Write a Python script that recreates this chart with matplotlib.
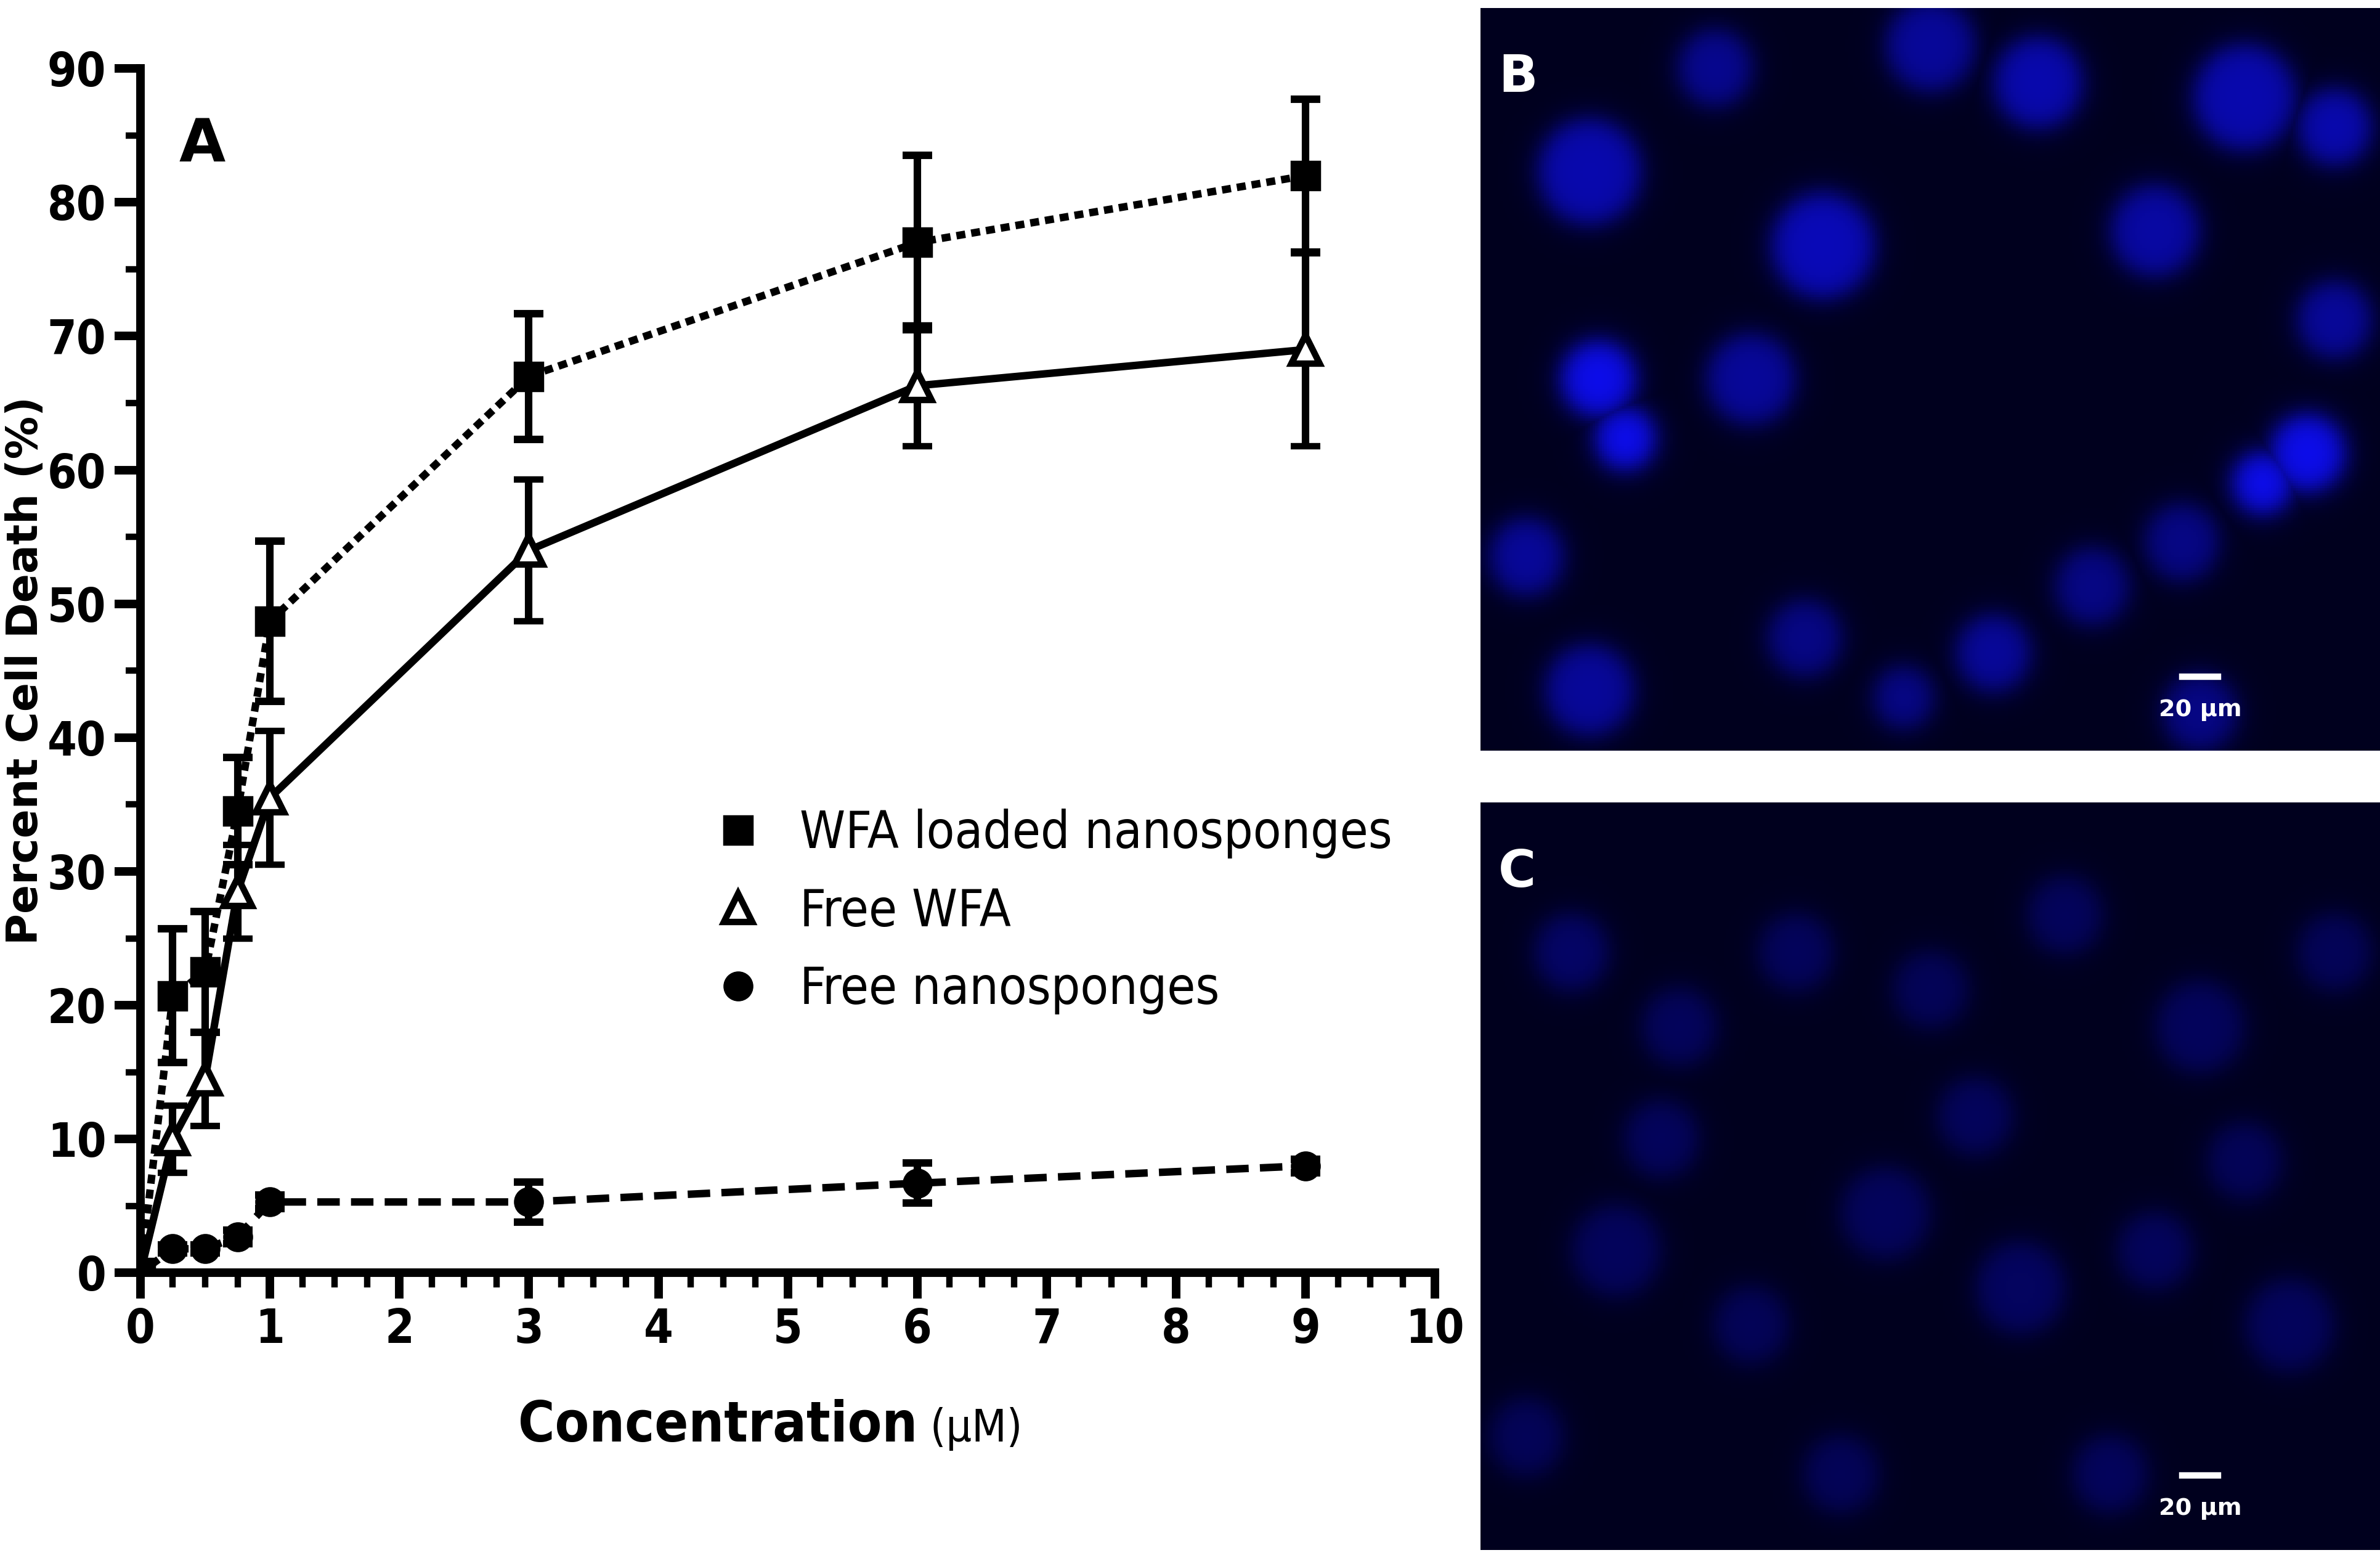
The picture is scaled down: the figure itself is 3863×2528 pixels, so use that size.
import numpy as np
import matplotlib
matplotlib.use("Agg")
import matplotlib.pyplot as plt
from matplotlib.lines import Line2D

conc = [0, 0.25, 0.5, 0.75, 1, 3, 6, 9]
wfa_ns = [0, 20.7, 22.5, 34.5, 48.7, 67, 77, 82]
wfa_ns_err = [0, 5, 4.5, 4, 6, 4.7, 6.5, 5.7]
free_wfa = [0, 10, 14.5, 28.5, 35.5, 54, 66.3, 69]
free_wfa_err = [0, 2.5, 3.5, 3.5, 5, 5.3, 4.5, 7.2]
free_ns = [0, 1.8, 1.8, 2.7, 5.3, 5.3, 6.7, 8]
free_ns_err = [0, 0.3, 0.3, 0.5, 0.5, 1.5, 1.5, 0.5]
labels = ['WFA loaded nanosponges', 'Free WFA', 'Free nanosponges']

# approximate cell centers (x, y, radius, brightness) in panel fractions (y from top)
cells_b = [(0.12,0.22,0.07,0.7),(0.38,0.32,0.07,0.75),(0.13,0.5,0.05,1.0),(0.16,0.58,0.04,1.0),
           (0.3,0.5,0.06,0.6),(0.5,0.05,0.06,0.6),(0.62,0.1,0.06,0.7),(0.85,0.12,0.07,0.7),
           (0.95,0.16,0.05,0.7),(0.92,0.6,0.05,1.0),(0.87,0.64,0.04,1.0),(0.78,0.72,0.05,0.5),
           (0.68,0.78,0.05,0.5),(0.57,0.87,0.05,0.6),(0.05,0.74,0.05,0.6),(0.12,0.92,0.06,0.6),
           (0.36,0.85,0.05,0.5),(0.47,0.93,0.04,0.5),(0.75,0.3,0.06,0.65),(0.95,0.42,0.05,0.6),
           (0.26,0.08,0.05,0.55),(0.8,0.95,0.05,0.5)]
cells_c = [(0.1,0.2,0.05,0.35),(0.22,0.3,0.05,0.3),(0.35,0.2,0.05,0.3),(0.5,0.25,0.05,0.28),
           (0.65,0.15,0.05,0.3),(0.8,0.3,0.06,0.3),(0.95,0.2,0.05,0.28),(0.15,0.6,0.06,0.3),
           (0.3,0.7,0.05,0.28),(0.45,0.55,0.06,0.3),(0.6,0.65,0.06,0.32),(0.75,0.6,0.05,0.3),
           (0.9,0.7,0.06,0.3),(0.05,0.85,0.05,0.28),(0.4,0.9,0.05,0.28),(0.7,0.9,0.05,0.3),
           (0.55,0.42,0.05,0.3),(0.2,0.45,0.05,0.3),(0.85,0.48,0.05,0.28)]

fig = plt.figure(figsize=(15.452, 10.112), dpi=250)
ax = fig.add_axes([0.059, 0.183, 0.544, 0.773])
lw = 3.5
ekw = dict(capsize=7, capthick=lw, elinewidth=lw, color='black', markersize=13)
ax.errorbar(conc, wfa_ns, yerr=wfa_ns_err, fmt='s', linestyle=(0, (1.2, 0.8)), lw=lw, **ekw)
ax.errorbar(conc, free_wfa, yerr=free_wfa_err, fmt='^', linestyle='-', lw=lw,
            markerfacecolor='white', markeredgewidth=3, **ekw)
ax.errorbar(conc, free_ns, yerr=free_ns_err, fmt='o', linestyle=(0, (3, 1.5)), lw=lw, **ekw)
ax.set_xlim(0, 10)
ax.set_ylim(0, 90)
ax.set_xticks(range(0, 11))
ax.set_xticks(np.arange(0, 10.01, 0.25), minor=True)
ax.set_yticks(range(0, 91, 10))
ax.set_yticks(range(0, 91, 5), minor=True)
for s in ['top', 'right']:
    ax.spines[s].set_visible(False)
for s in ['left', 'bottom']:
    ax.spines[s].set_linewidth(4)
ax.tick_params(which='major', length=12, width=4, labelsize=22, pad=4)
ax.tick_params(which='minor', length=7, width=3)
for t in ax.get_xticklabels() + ax.get_yticklabels():
    t.set_fontstretch('condensed'); t.set_fontweight('bold')
ax.set_ylabel('Percent Cell Death (%)', fontsize=20, fontweight='bold')
ax.yaxis.set_label_coords(-0.073, 0.5)
ax.text(0.6, -0.14, 'Concentration', transform=ax.transAxes, fontsize=26, fontweight='bold',
        fontstretch='condensed', ha='right', va='baseline')
ax.text(0.6, -0.14, ' (µM)', transform=ax.transAxes, fontsize=21, fontstretch='condensed',
        ha='left', va='baseline')
ax.text(0.03, 0.96, 'A', transform=ax.transAxes, fontsize=28, fontweight='bold', va='top')
handles = [Line2D([], [], marker='s', ls='none', color='black', markersize=13),
           Line2D([], [], marker='^', ls='none', color='black', markerfacecolor='white',
                  markeredgewidth=3, markersize=13),
           Line2D([], [], marker='o', ls='none', color='black', markersize=13)]
ax.legend(handles, labels, loc='center left', bbox_to_anchor=(0.41, 0.3), frameon=False,
          prop={'size': 24, 'stretch': 'condensed'}, handlelength=0.8, labelspacing=0.55)

def panel(rect, cells, label):
    a = fig.add_axes(rect)
    ny, nx = 300, 370
    yy, xx = np.mgrid[0:1:ny*1j, 0:1:nx*1j]
    img = np.zeros((ny, nx))
    for cx, cy, r, b in cells:
        d = np.sqrt(((xx-cx)*1.25)**2 + (yy-cy)**2)
        img = np.maximum(img, b / (1 + np.exp((d - r) / 0.01)))
    rgb = np.zeros((ny, nx, 3))
    rgb[..., 0] = 0.05*img
    rgb[..., 1] = 0.05*img
    rgb[..., 2] = 0.12 + 0.8*img
    a.imshow(rgb, extent=(0, 1, 1, 0), aspect='auto')
    a.set_xlim(0, 1); a.set_ylim(1, 0); a.axis('off')
    a.text(0.02, 0.94, label, transform=a.transAxes, color='white', fontsize=24, fontweight='bold', va='top')
    a.plot([0.78, 0.82], [0.9, 0.9], color='white', lw=3)
    a.text(0.8, 0.93, '20 µm', color='white', fontsize=11, fontweight='bold', ha='center', va='top')

panel([0.622, 0.518, 0.378, 0.477], cells_b, 'B')
panel([0.622, 0.005, 0.378, 0.48], cells_c, 'C')
fig.savefig('out.png', dpi=250)
